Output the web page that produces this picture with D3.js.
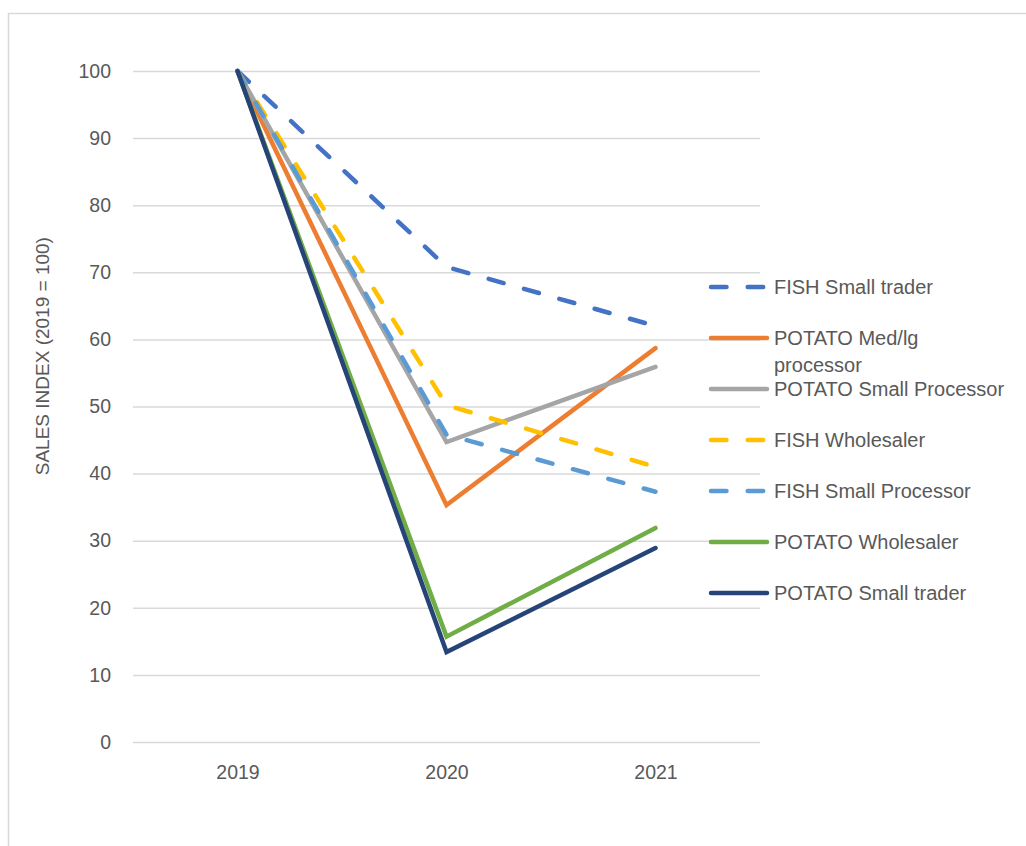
<!DOCTYPE html>
<html>
<head>
<meta charset="utf-8">
<script src="https://cdn.jsdelivr.net/npm/d3@7"></script>
<style>
  body { margin: 0; background: #fff; }
  text { font-family: "Liberation Sans", Arial, sans-serif; fill: #595959; }
</style>
</head>
<body>
<div class="vis-lineChart"></div>
<script>
// data
var years = ["2019", "2020", "2021"];
var seriesNames = ["FISH Small trader", "POTATO Med/lg processor", "POTATO Small Processor",
                   "FISH Wholesaler", "FISH Small Processor", "POTATO Wholesaler", "POTATO Small trader"];
var fishSmallTrader = [100, 70.8, 62.0];
var potatoMedLgProcessor = [100, 35.3, 58.7];
var potatoSmallProcessor = [100, 44.7, 55.9];
var fishWholesaler = [100, 50.2, 41.0];
var fishSmallProcessor = [100, 45.8, 37.3];
var potatoWholesaler = [100, 15.7, 31.9];
var potatoSmallTrader = [100, 13.4, 28.9];
var yTicks = [0, 10, 20, 30, 40, 50, 60, 70, 80, 90, 100];

var seriesValues = [fishSmallTrader, potatoMedLgProcessor, potatoSmallProcessor,
                    fishWholesaler, fishSmallProcessor, potatoWholesaler, potatoSmallTrader];
var colors = ["#4472C4", "#ED7D31", "#A5A5A5", "#FFC000", "#5B9BD5", "#70AD47", "#264478"];
var dashed = [true, false, false, true, true, false, false];

var W = 1026, H = 846;
var margin = {top: 71, right: 266, bottom: 104, left: 133};

var svg = d3.select('.vis-lineChart').append('svg')
    .attr("width", W)
    .attr("height", H);

// outer chart frame (cropped on the right and bottom)
svg.append("path")
    .attr("d", "M8.5," + H + "V13.5H" + W)
    .attr("fill", "none")
    .attr("stroke", "#D9D9D9")
    .attr("stroke-width", 1.5);

var x = d3.scalePoint()
    .domain(years)
    .range([margin.left, W - margin.right])
    .padding(0.5);

var y = d3.scaleLinear()
    .domain([0, 100])
    .range([H - margin.bottom, margin.top]);

// gridlines + y labels
var yAxis = svg.append("g")
    .attr("transform", "translate(" + margin.left + ",0)")
    .call(d3.axisLeft(y).tickValues(yTicks).tickSize(-(W - margin.left - margin.right)).tickPadding(22));
yAxis.select(".domain").remove();
yAxis.selectAll(".tick line").attr("stroke", "#D9D9D9").attr("stroke-width", 1.5);
yAxis.selectAll(".tick text")
    .style("font-size", "19.5px")
    .style("font-family", "'Liberation Sans', Arial, sans-serif")
    .attr("fill", "#595959");

// x labels
var xAxis = svg.append("g")
    .attr("transform", "translate(0," + (H - margin.bottom) + ")")
    .call(d3.axisBottom(x).tickSize(0).tickPadding(23));
xAxis.select(".domain").remove();
xAxis.selectAll(".tick text")
    .style("font-size", "19.5px")
    .style("font-family", "'Liberation Sans', Arial, sans-serif")
    .attr("fill", "#595959");

// y axis title
svg.append("text")
    .attr("transform", "translate(49," + (margin.top + (H - margin.bottom - margin.top) * 0.425) + ") rotate(-90)")
    .attr("text-anchor", "middle")
    .style("font-size", "19px")
    .text("SALES INDEX (2019 = 100)");

var line = d3.line()
    .x(function(d, i) { return x(years[i]); })
    .y(function(d) { return y(d); });

svg.selectAll('.series')
    .data(seriesValues)
    .enter()
    .append('path')
    .attr('class', 'series')
    .attr('d', line)
    .attr('fill', 'none')
    .attr('stroke', function(d, i) { return colors[i]; })
    .attr('stroke-width', 4.5)
    .attr('stroke-linejoin', 'miter')
    .attr('stroke-linecap', 'round')
    .attr('stroke-dasharray', function(d, i) { return dashed[i] ? "15.5,21.2" : null; });

// legend
var lx = 711, ly = 287, rowH = 51;
var legend = svg.selectAll('.legend')
    .data(seriesNames)
    .enter()
    .append('g')
    .attr('class', 'legend')
    .attr('transform', function(d, i) { return "translate(" + lx + "," + (ly + i * rowH) + ")"; });

legend.append('line')
    .attr('x1', 0).attr('x2', 56)
    .attr('stroke', function(d, i) { return colors[i]; })
    .attr('stroke-width', 4.5)
    .attr('stroke-linecap', 'round')
    .attr('stroke-dasharray', function(d, i) { return dashed[i] ? "15.5,21.2" : null; });

legend.append('text')
    .attr('x', 63)
    .attr('dy', '0.35em')
    .style('font-size', '20px')
    .text(function(d) { return d; })
    .each(function(d) { wrap(d3.select(this), 237); });

function wrap(text, maxWidth) {
    var words = text.text().split(/\s+/),
        lines = [], cur = [];
    text.text(null);
    var tspan = text.append("tspan").attr("x", 63);
    words.forEach(function(w) {
        cur.push(w);
        tspan.text(cur.join(" "));
        if (tspan.node().getComputedTextLength() > maxWidth && cur.length > 1) {
            cur.pop();
            tspan.text(cur.join(" "));
            cur = [w];
            tspan = text.append("tspan").attr("x", 63).attr("dy", "1.35em").text(w);
        }
    });
}
</script>
</body>
</html>
